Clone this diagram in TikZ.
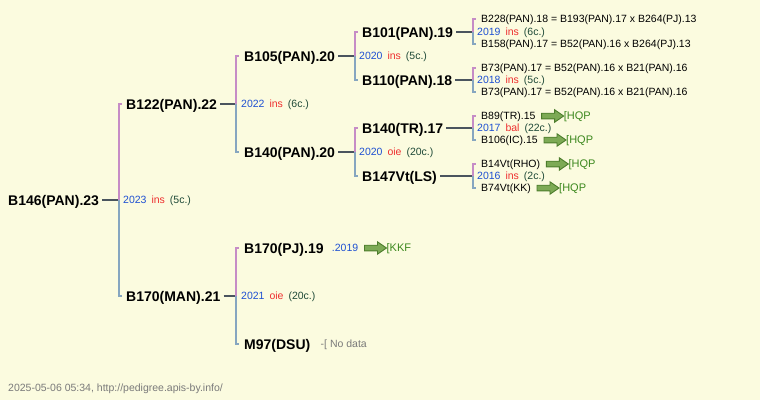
\documentclass[tikz,border=0pt]{standalone}
\usepackage{fontspec}
\setmainfont{Liberation Sans}
\definecolor{bgc}{HTML}{FBFBDF}
\definecolor{yr}{HTML}{1E50D2}
\definecolor{rd}{HTML}{EE3030}
\definecolor{dg}{HTML}{1F4A38}
\definecolor{pk}{HTML}{C68CC6}
\definecolor{bl}{HTML}{86A6C0}
\definecolor{cn}{HTML}{4A545E}
\definecolor{afill}{HTML}{7DAA55}
\definecolor{adraw}{HTML}{4C7C2C}
\definecolor{atxt}{HTML}{3C881E}
\definecolor{gy}{HTML}{7A7A7A}
\newcommand\ylbl[3]{{\color{yr}#1}\hspace{5pt}{\color{rd}#2}\hspace{5pt}{\color{dg}#3}}
\tikzset{
  bigname/.style={anchor=west,inner sep=0pt,font=\bfseries\fontsize{14}{15}\selectfont,text=black,text height=12pt,text depth=2pt},
  smallname/.style={anchor=west,inner sep=0pt,font=\fontsize{10.5}{12}\selectfont,text=black,text height=9.5pt,text depth=2pt},
  yearlbl/.style={smallname},
  graytxt/.style={smallname,text=gy},
  arrtxt/.style={smallname,text=atxt,font=\fontsize{11}{12}\selectfont},
  conn/.style={draw=cn,line width=2.6pt},
  pkline/.style={draw=pk,line width=2.2pt},
  blline/.style={draw=bl,line width=2.2pt},
  garrow/.pic={\path[draw=adraw,fill=afill,line width=0.9pt,line join=miter]
    (0,-2.8) -- (13,-2.8) -- (13,-6.2) -- (22,0) -- (13,6.2) -- (13,2.8) -- (0,2.8) -- cycle;}
}
\newcommand\brk[3]{% bracket coordinate, top node, bottom node
  \draw[pkline] (#1) -- (#1 |- #2.west) -- ++(3,0);
  \draw[blline] (#1) -- (#1 |- #3.west) -- ++(3,0);}
\begin{document}
\begin{tikzpicture}[x=1pt,y=-1pt]
\fill[bgc] (0,0) rectangle (760,400);
\useasboundingbox (0,0) rectangle (760,400);

% level 0
\node[bigname] (nA) at (8,200) {B146(PAN).23};
\coordinate (bA) at (119,200);
% level 1
\node[bigname] (nB) at (126,104) {B122(PAN).22};
\node[bigname] (nC) at (126,296) {B170(MAN).21};
\coordinate (bB) at (236,104);
\coordinate (bC) at (236,296);
% level 2
\node[bigname] (nD) at (244,56) {B105(PAN).20};
\node[bigname] (nE) at (244,152) {B140(PAN).20};
\node[bigname] (nF) at (244,248) {B170(PJ).19};
\node[bigname] (nG) at (244,344) {M97(DSU)};
\coordinate (bD) at (355,56);
\coordinate (bE) at (355,152);
% level 3
\node[bigname] (nH) at (362,32) {B101(PAN).19};
\node[bigname] (nI) at (362,80) {B110(PAN).18};
\node[bigname] (nJ) at (362,128) {B140(TR).17};
\node[bigname] (nK) at (362,176) {B147Vt(LS)};
\coordinate (bH) at (473,32);
\coordinate (bI) at (473,80);
\coordinate (bJ) at (473,128);
\coordinate (bK) at (473,176);
% level 4
\node[smallname] (m1) at (481,19) {B228(PAN).18 = B193(PAN).17 x B264(PJ).13};
\node[smallname] (m2) at (481,44) {B158(PAN).17 = B52(PAN).16 x B264(PJ).13};
\node[smallname] (m3) at (481,68) {B73(PAN).17 = B52(PAN).16 x B21(PAN).16};
\node[smallname] (m4) at (481,92) {B73(PAN).17 = B52(PAN).16 x B21(PAN).16};
\node[smallname] (m5) at (481,116) {B89(TR).15};
\node[smallname] (m6) at (481,140) {B106(IC).15};
\node[smallname] (m7) at (481,164) {B14Vt(RHO)};
\node[smallname] (m8) at (481,188) {B74Vt(KK)};

% year labels
\node[yearlbl] (yA) at (123,200) {\ylbl{2023}{ins}{(5c.)}};
\node[yearlbl] (yB) at (241,104) {\ylbl{2022}{ins}{(6c.)}};
\node[yearlbl] (yC) at (241,296) {\ylbl{2021}{oie}{(20c.)}};
\node[yearlbl] (yD) at (359,56) {\ylbl{2020}{ins}{(5c.)}};
\node[yearlbl] (yE) at (359,152) {\ylbl{2020}{oie}{(20c.)}};
\node[yearlbl] (yH) at (477,32) {\ylbl{2019}{ins}{(6c.)}};
\node[yearlbl] (yI) at (477,80) {\ylbl{2018}{ins}{(5c.)}};
\node[yearlbl] (yJ) at (477,128) {\ylbl{2017}{bal}{(22c.)}};
\node[yearlbl] (yK) at (477,176) {\ylbl{2016}{ins}{(2c.)}};

% connectors
\draw[conn] ([xshift=3]nA.east) -- (bA);
\draw[conn] ([xshift=3]nB.east) -- (bB);
\draw[conn] ([xshift=3]nC.east) -- (bC);
\draw[conn] ([xshift=3]nD.east) -- (bD);
\draw[conn] ([xshift=3]nE.east) -- (bE);
\draw[conn] ([xshift=3]nH.east) -- (bH);
\draw[conn] ([xshift=3]nI.east) -- (bI);
\draw[conn] ([xshift=3]nJ.east) -- (bJ);
\draw[conn] ([xshift=3]nK.east) -- (bK);

% brackets
\brk{bA}{nB}{nC}
\brk{bB}{nD}{nE}
\brk{bC}{nF}{nG}
\brk{bD}{nH}{nI}
\brk{bE}{nJ}{nK}
\brk{bH}{m1}{m2}
\brk{bI}{m3}{m4}
\brk{bJ}{m5}{m6}
\brk{bK}{m7}{m8}

% extras
\node[yearlbl,text=yr] (yF) at ([xshift=8]nF.east) {.2019};
\pic at ([xshift=6]yF.east) {garrow};
\node[arrtxt] (kF) at ([xshift=28]yF.east) {[KKF};
\node[graytxt] (gG) at ([xshift=10]nG.east) {-[ No data};

\pic at ([xshift=6]m5.east) {garrow};
\node[arrtxt] (h5) at ([xshift=28]m5.east) {[HQP};
\pic at ([xshift=6]m6.east) {garrow};
\node[arrtxt] (h6) at ([xshift=28]m6.east) {[HQP};
\pic at ([xshift=6]m7.east) {garrow};
\node[arrtxt] (h7) at ([xshift=28]m7.east) {[HQP};
\pic at ([xshift=6]m8.east) {garrow};
\node[arrtxt] (h8) at ([xshift=28]m8.east) {[HQP};

\node[graytxt] (foot) at (8,388) {2025-05-06 05:34, http://pedigree.apis-by.info/};
\end{tikzpicture}
\end{document}
